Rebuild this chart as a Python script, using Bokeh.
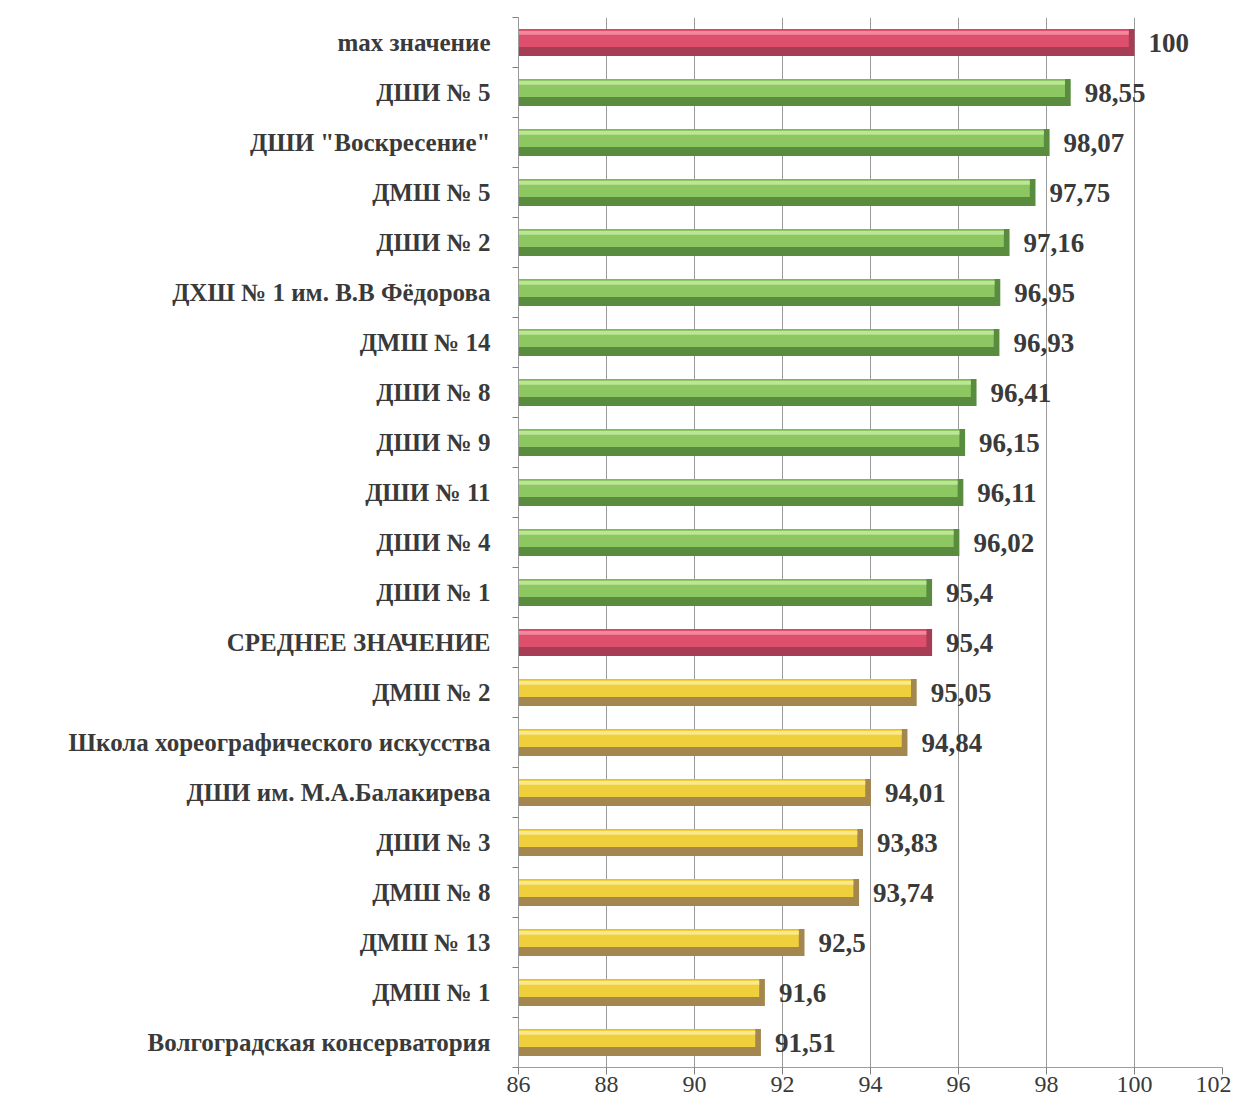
from bokeh.plotting import figure
from bokeh.models import Range1d, FixedTicker, ColumnDataSource
from bokeh.core.properties import value
from bokeh.embed import file_html
from bokeh.resources import INLINE

# ---- data (top to bottom as in the chart) ----
labels = [
    "max значение",
    "ДШИ № 5",
    "ДШИ \"Воскресение\"",
    "ДМШ № 5",
    "ДШИ № 2",
    "ДХШ № 1 им. В.В Фёдорова",
    "ДМШ № 14",
    "ДШИ № 8",
    "ДШИ № 9",
    "ДШИ № 11",
    "ДШИ № 4",
    "ДШИ № 1",
    "СРЕДНЕЕ ЗНАЧЕНИЕ",
    "ДМШ № 2",
    "Школа хореографического искусства",
    "ДШИ им. М.А.Балакирева",
    "ДШИ № 3",
    "ДМШ № 8",
    "ДМШ № 13",
    "ДМШ № 1",
    "Волгоградская консерватория",
]
values = [100, 98.55, 98.07, 97.75, 97.16, 96.95, 96.93, 96.41, 96.15, 96.11,
          96.02, 95.4, 95.4, 95.05, 94.84, 94.01, 93.83, 93.74, 92.5, 91.6, 91.51]
groups = ["ref", "high", "high", "high", "high", "high", "high", "high", "high",
          "high", "high", "high", "ref", "low", "low", "low", "low", "low", "low",
          "low", "low"]
x_ticks = [86, 88, 90, 92, 94, 96, 98, 100, 102]

palette = {
    "ref":  {"dark": "#a73d55", "body": "#de4f6d", "light": "#f2889d"},
    "high": {"dark": "#5a8c3f", "body": "#8cc762", "light": "#bde595"},
    "low":  {"dark": "#a4874f", "body": "#efd03c", "light": "#f9e98a"},
}

n = len(labels)
ys = [n - 1 - i for i in range(n)]
base = 86
H = 0.54

src = ColumnDataSource(dict(
    y=ys,
    v=values,
    vb=[v - 0.13 for v in values],
    y_body=[y + H * 0.16 for y in ys],
    y_light=[y + H * 0.36 for y in ys],
    dark=[palette[g]["dark"] for g in groups],
    body=[palette[g]["body"] for g in groups],
    light=[palette[g]["light"] for g in groups],
    txt=[f"{v:g}".replace(".", ",") for v in values],
))

p = figure(width=1231, height=1105, output_backend="svg", toolbar_location=None,
           x_range=Range1d(86, 102), y_range=Range1d(-0.5, n - 0.5),
           min_border_left=518, min_border_right=9, min_border_top=17,
           min_border_bottom=38)
p.outline_line_color = None
p.background_fill_color = "white"
p.border_fill_color = "white"

# grid
p.ygrid.grid_line_color = None
p.xgrid.grid_line_color = "#9a9a9a"
p.xgrid.grid_line_width = 1
p.xgrid.ticker = FixedTicker(ticks=x_ticks)

# bars with a bevelled look
p.hbar(y="y", left=base, right="v", height=H, fill_color="dark", line_color=None, source=src)
p.hbar(y="y_body", left=base, right="vb", height=H * 0.66, fill_color="body", line_color=None, source=src)
p.hbar(y="y_light", left=base, right="vb", height=H * 0.14, fill_color="light", line_color=None, source=src)

# value labels
p.text(x="v", y="y", text="txt", source=src, x_offset=14,
       text_baseline="middle", text_align="left",
       text_font=value("Liberation Serif"), text_font_style="bold",
       text_font_size="27px", text_color="#3a3a3a")

# x axis
xa = p.xaxis[0]
xa.ticker = FixedTicker(ticks=x_ticks)
xa.axis_line_color = "#9c9cb0"
xa.major_tick_line_color = "#808080"
xa.major_tick_out = 7
xa.major_tick_in = 0
xa.minor_tick_line_color = None
xa.major_label_text_font = "Liberation Serif"
xa.major_label_text_font_size = "24px"
xa.major_label_text_color = "#3a3a3a"
xa.major_label_standoff = 2

# y axis: labels at bar centres, tick marks between categories
ya = p.yaxis[0]
ya.ticker = FixedTicker(ticks=ys, minor_ticks=[k - 0.5 for k in range(n + 1)])
ya.major_label_overrides = {y: lab for y, lab in zip(ys, labels)}
ya.axis_line_color = "#9a9a9a"
ya.major_tick_line_color = None
ya.major_tick_out = 0
ya.major_tick_in = 0
ya.minor_tick_line_color = "#808080"
ya.minor_tick_out = 6
ya.minor_tick_in = 0
ya.major_label_text_font = "Liberation Serif"
ya.major_label_text_font_style = "bold"
ya.major_label_text_font_size = "25px"
ya.major_label_text_color = "#3a3a3a"
ya.major_label_standoff = 22

open("out.html", "w").write(file_html(p, INLINE))
